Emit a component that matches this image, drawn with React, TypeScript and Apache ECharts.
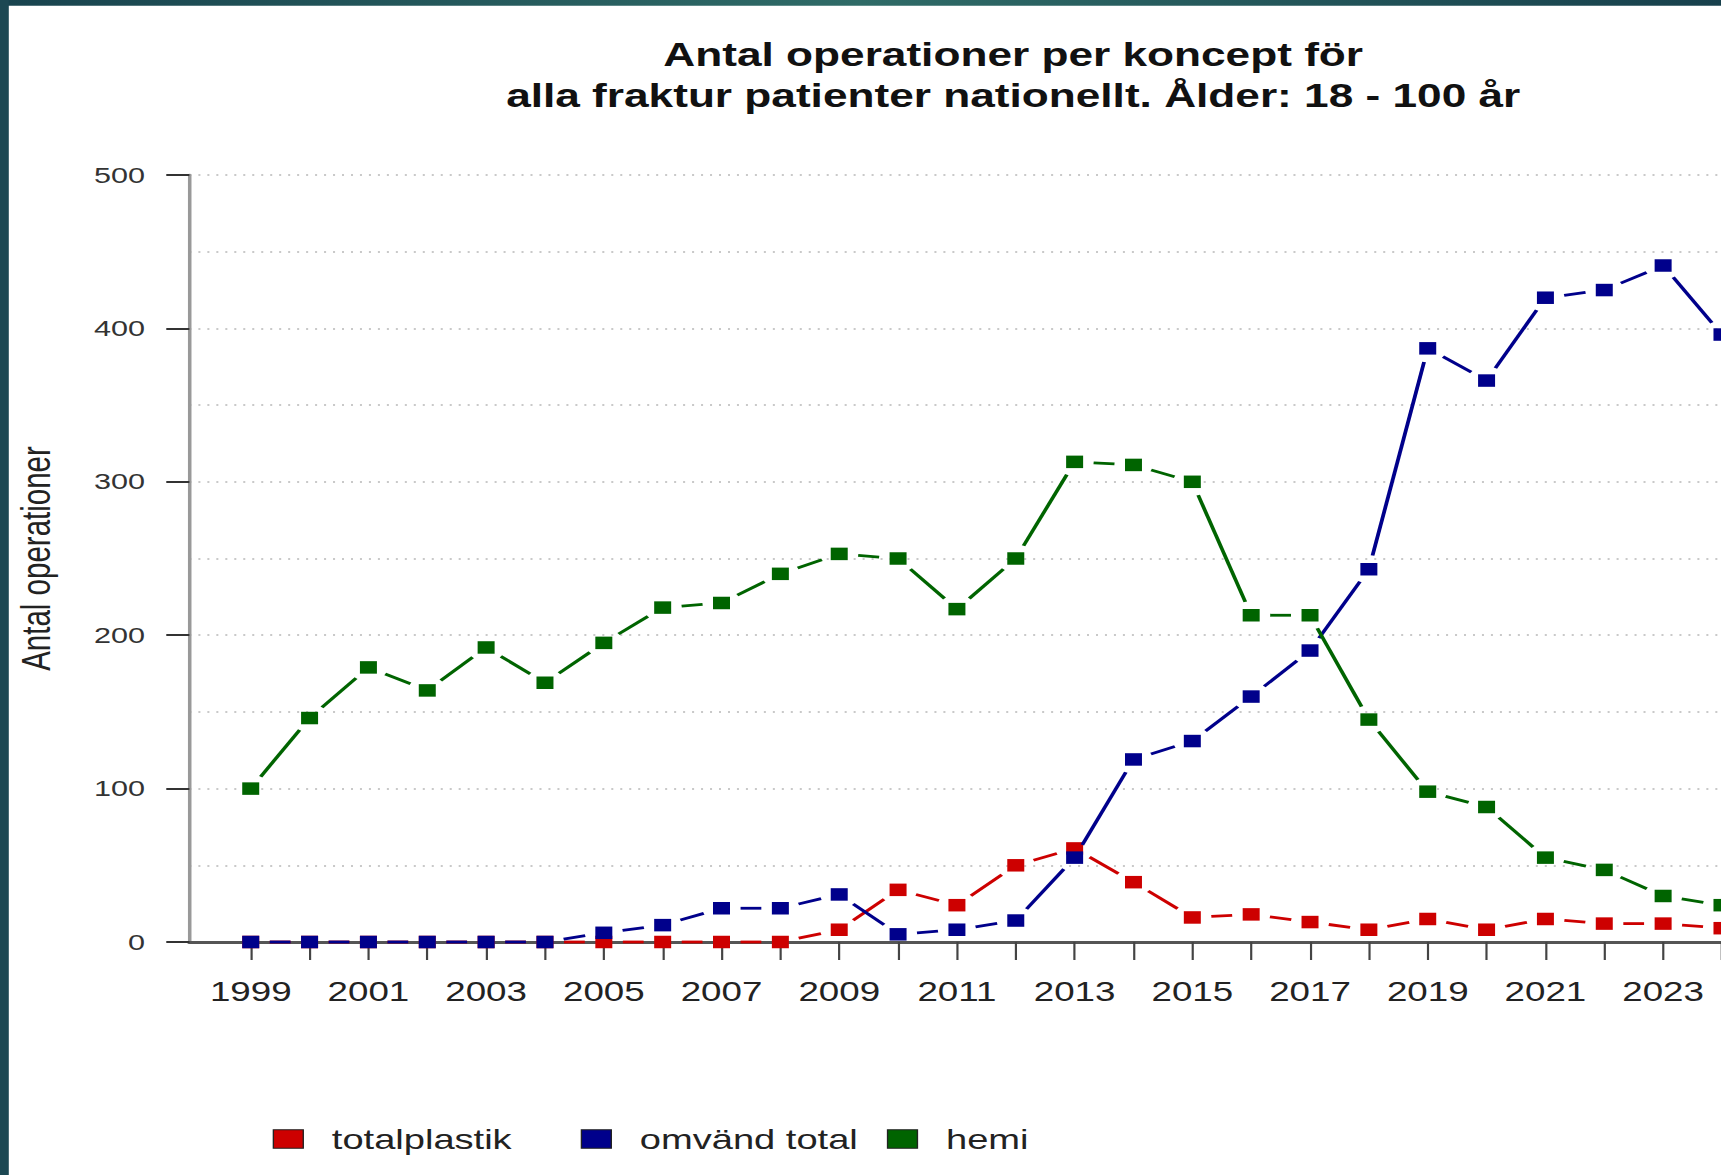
import React, { useEffect, useRef } from "react";
import * as echarts from "echarts";

// ---------- data ----------
const years = [
  1999, 2000, 2001, 2002, 2003, 2004, 2005, 2006, 2007, 2008, 2009, 2010, 2011,
  2012, 2013, 2014, 2015, 2016, 2017, 2018, 2019, 2020, 2021, 2022, 2023, 2024,
];
const totalplastik = [
  0, 0, 0, 0, 0, 0, 0, 0, 0, 0, 8, 34, 24, 50, 61, 39, 16, 18, 13, 8, 15, 8, 15, 12, 12, 9,
];
const omvandTotal = [
  0, 0, 0, 0, 0, 0, 6, 11, 22, 22, 31, 5, 8, 14, 55, 119, 131, 160, 190, 243, 387, 366, 420, 425, 441, 396,
];
const hemi = [
  100, 146, 179, 164, 192, 169, 195, 218, 221, 240, 253, 250, 217, 250, 313, 311, 300, 213, 213, 145, 98, 88, 55, 47, 30, 24,
];
const seriesNames = ["totalplastik", "omvänd total", "hemi"];
const seriesValues = [totalplastik, omvandTotal, hemi];
const seriesColors = ["#CD0000", "#00008B", "#006400"];
const xTickYears = years;
const xLabelYears = years.filter((y) => y % 2 === 1);
const titleLines = [
  "Antal operationer per koncept för",
  "alla fraktur patienter nationellt. Ålder: 18 - 100 år",
];
const yAxisTitle = "Antal operationer";

// ---------- layout ----------
const W = 1721;
const H = 1175;
const S = 1.36; // horizontal stretch of the reference picture
const CW = (W + 90) / S; // chart is wider than the visible page; the wrapper crops it
const FONT = "'Liberation Sans', Arial, sans-serif";
const GAP = 14; // gap around points (type "b" lines)
const X_MIN = 1997.958;
const X_MAX = 2025;
const YEAR_PX = 58.85;
const LEGEND_LEFTS = [200.5, 427, 652.1];

function segments(vals: number[]) {
  const out: number[][] = [];
  for (let i = 0; i < vals.length - 1; i++) {
    out.push([years[i], vals[i], years[i + 1], vals[i + 1]]);
  }
  return out;
}

export default function App() {
  const ref = useRef<HTMLDivElement>(null);

  useEffect(() => {
    document.body.style.margin = "0";
    if (!ref.current) return;
    const chart = echarts.init(ref.current, undefined, { renderer: "svg" });

    const gridStyle = { color: "#b8b8b8", width: 1.6, type: [1.5, 5.1] as any };

    const series: any[] = [];
    seriesNames.forEach((name, k) => {
      const color = seriesColors[k];
      series.push({
        type: "custom",
        name: name + " linje",
        data: segments(seriesValues[k]),
        encode: { x: [0, 2], y: [1, 3] },
        z: 2 + k * 2,
        silent: true,
        clip: false,
        renderItem: (params: any, api: any) => {
          const a = api.coord([api.value(0), api.value(1)]);
          const b = api.coord([api.value(2), api.value(3)]);
          const dx = b[0] - a[0];
          const dy = b[1] - a[1];
          const d = Math.hypot(dx, dy);
          if (d <= 2 * GAP) return { type: "group", children: [] };
          const ux = dx / d;
          const uy = dy / d;
          return {
            type: "line",
            shape: {
              x1: a[0] + ux * GAP,
              y1: a[1] + uy * GAP,
              x2: b[0] - ux * GAP,
              y2: b[1] - uy * GAP,
            },
            style: { stroke: color, lineWidth: 2.8 },
          };
        },
      });
      series.push({
        type: "line",
        name,
        data: years.map((y, i) => [y, seriesValues[k][i]]),
        symbol: "rect",
        symbolSize: 12.5,
        showSymbol: true,
        showAllSymbol: true,
        lineStyle: { width: 0, opacity: 0 },
        itemStyle: { color },
        clip: false,
        z: 3 + k * 2,
        silent: true,
        emphasis: { disabled: true },
      });
    });

    const legends = seriesNames.map((name, k) => ({
      data: [name],
      left: LEGEND_LEFTS[k],
      top: 1125,
      padding: 0,
      orient: "horizontal",
      icon: "rect",
      itemWidth: 22,
      itemHeight: 18.4,
      selectedMode: false,
      itemStyle: { borderColor: "#222", borderWidth: 1 },
      textStyle: {
        fontFamily: FONT,
        fontSize: 28,
        color: "#222",
        padding: [0, 0, 0, 16],
      },
    }));

    chart.setOption({
      animation: false,
      backgroundColor: "#ffffff",
      textStyle: { fontFamily: FONT },
      title: {
        text: titleLines.join("\n"),
        left: 745,
        top: 34,
        padding: 0,
        textAlign: "center",
        textStyle: {
          fontFamily: FONT,
          fontSize: 32.5,
          fontWeight: "bold",
          color: "#111",
          lineHeight: 41.3,
        },
      },
      legend: legends,
      grid: {
        left: 189.4 / S,
        top: 175,
        width: ((X_MAX - X_MIN) * YEAR_PX) / S,
        height: 767,
        containLabel: false,
      },
      xAxis: {
        type: "value",
        min: X_MIN,
        max: X_MAX,
        axisLine: { show: true, lineStyle: { color: "#555", width: 3.2 } },
        axisTick: {
          show: true,
          length: 18,
          customValues: xTickYears,
          lineStyle: { color: "#444", width: 1.6 },
        },
        axisLabel: {
          customValues: xLabelYears,
          formatter: (v: number) => String(Math.round(v)),
          margin: 36,
          fontFamily: FONT,
          fontSize: 27,
          color: "#222",
        },
        splitLine: { show: false },
      },
      yAxis: {
        type: "value",
        min: 0,
        max: 500,
        interval: 100,
        name: yAxisTitle,
        nameLocation: "middle",
        nameRotate: 90,
        nameGap: 98,
        nameTextStyle: { fontFamily: FONT, fontSize: 29.5, color: "#222" },
        axisLine: { show: true, lineStyle: { color: "#999", width: 2.6 } },
        axisTick: { show: true, length: 17, lineStyle: { color: "#333", width: 2 } },
        axisLabel: { margin: 32.6, fontFamily: FONT, fontSize: 22.5, color: "#333" },
        splitLine: { show: true, lineStyle: gridStyle },
        minorTick: { show: false, splitNumber: 2 },
        minorSplitLine: { show: true, lineStyle: gridStyle },
      },
      graphic: [
        {
          type: "rect",
          z: 100,
          silent: true,
          shape: { x: 0, y: 0, width: W / S, height: 5.7 },
          style: {
            fill: new echarts.graphic.LinearGradient(0, 0, 1, 0, [
              { offset: 0, color: "#18434e" },
              { offset: 0.5, color: "#2f6b67" },
              { offset: 1, color: "#17404c" },
            ]),
          },
        },
        {
          type: "rect",
          z: 100,
          silent: true,
          shape: { x: 0, y: 0, width: 8.8 / S, height: H },
          style: { fill: "#1c4853" },
        },
      ],
      series,
    });

    return () => chart.dispose();
  }, []);

  return (
    <div
      style={{
        width: W,
        height: H,
        overflow: "hidden",
        position: "relative",
        background: "#fff",
      }}
    >
      <div
        ref={ref}
        style={{
          width: CW,
          height: H,
          transform: `scaleX(${S})`,
          transformOrigin: "0 0",
        }}
      />
    </div>
  );
}
